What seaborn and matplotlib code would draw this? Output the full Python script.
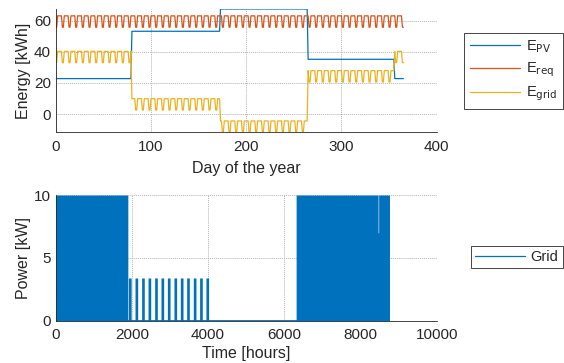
import numpy as np
import pandas as pd
import matplotlib
matplotlib.use("Agg")
import matplotlib.pyplot as plt
import seaborn as sns

# ---- daily energy balance -------------------------------------------------
# first day of each seasonal PV block and its daily PV yield [kWh]
season_first_day = [1, 80, 173, 265, 356]
pv_kwh = [22.8, 53.2, 67.5, 35.2, 22.8]
# daily demand by weekday [kWh], Sunday first (1 January is a Sunday)
req_week_kwh = [55.8, 63.1, 63.1, 63.1, 63.1, 63.1, 55.8]
n_days = 365

# ---- hourly grid power ----------------------------------------------------
band_start_h = [0, 6310]          # periods of continuous grid use
band_end_h = [1893, 8760]
band_kw = 10.0
spike_center_h = [1944, 2116, 2290, 2458, 2632, 2798, 2966,
                  3138, 3306, 3472, 3646, 3812, 3978]
spike_kw = 3.4
spike_width_h = 70
dip_start_h = 8462
dip_end_h = 8476
dip_kw = 7.0
n_hours = 8760

C_PV, C_REQ, C_GRID = "#0072BD", "#D95319", "#EDB120"
INK = "#262626"

# daily series
days = np.arange(1, n_days + 1)
season_idx = np.searchsorted(season_first_day, days, side="right") - 1
e_pv = np.asarray(pv_kwh)[season_idx]
e_req = np.asarray(req_week_kwh)[(days - 1) % 7]
e_grid = e_req - e_pv

lab_pv, lab_req, lab_grid = r"E$_{\mathrm{PV}}$", r"E$_{\mathrm{req}}$", r"E$_{\mathrm{grid}}$"
energy = pd.concat([
    pd.DataFrame({"day": days, "kwh": e_pv, "series": lab_pv}),
    pd.DataFrame({"day": days, "kwh": e_req, "series": lab_req}),
    pd.DataFrame({"day": days, "kwh": e_grid, "series": lab_grid}),
], ignore_index=True)

# hourly envelope of grid power
hours = np.arange(n_hours + 1)
grid_peak = np.zeros(n_hours + 1)
for s, e in zip(band_start_h, band_end_h):
    grid_peak[(hours >= s) & (hours < e)] = band_kw
for c in spike_center_h:
    grid_peak[(hours >= c - spike_width_h / 2) & (hours < c + spike_width_h / 2)] = spike_kw
grid_peak[(hours >= dip_start_h) & (hours < dip_end_h)] = dip_kw
grid_floor = np.zeros(n_hours + 1)
power = pd.DataFrame({"hour": hours, "kw": grid_floor, "series": "Grid"})

# ---- styling --------------------------------------------------------------
sns.set_style("white")
plt.rcParams["font.family"] = ["Liberation Sans", "DejaVu Sans"]
plt.rcParams["mathtext.default"] = "regular"
plt.rcParams.update({
    "xtick.direction": "in", "ytick.direction": "in",
    "xtick.major.size": 3.0, "ytick.major.size": 3.0,
    "xtick.major.width": 0.6, "ytick.major.width": 0.6,
    "xtick.color": INK, "ytick.color": INK,
    "xtick.labelsize": 11, "ytick.labelsize": 11,
    "axes.labelsize": 11.5, "axes.labelcolor": INK,
    "axes.edgecolor": INK, "axes.linewidth": 0.6,
})

fig = plt.figure(figsize=(5.64, 3.63), dpi=100)
ax1 = fig.add_axes([0.0988, 0.6355, 0.6755, 0.3397])
ax2 = fig.add_axes([0.0988, 0.1165, 0.6755, 0.3463])

def style_axes(ax):
    ax.set_axisbelow(True)
    ax.grid(True, color="#b3b3b3", linestyle=(0, (1, 1)), linewidth=0.7)
    for side in ("top", "right"):
        ax.spines[side].set_visible(False)
    ax.tick_params(axis="x", pad=5.5)
    ax.tick_params(axis="y", pad=3.5)

# top: daily energy
sns.lineplot(data=energy, x="day", y="kwh", hue="series",
             palette=[C_PV, C_REQ, C_GRID], linewidth=0.9, ax=ax1)
ax1.set_xlim(0, 400)
ax1.set_ylim(energy["kwh"].min(), energy["kwh"].max())
ax1.set_xticks(range(0, 401, 100))
ax1.set_yticks(range(0, 61, 20))
ax1.set_xlabel("Day of the year")
ax1.set_ylabel("Energy [kWh]")
style_axes(ax1)
ax1.xaxis.set_label_coords(0.5, -0.235)
ax1.yaxis.set_label_coords(-0.066, 0.5)
h, l = ax1.get_legend_handles_labels()
ax1.legend(h, l, loc="upper left", bbox_to_anchor=(0.8222, 0.9099),
           bbox_transform=fig.transFigure, fontsize=10.5, frameon=True,
           fancybox=False, framealpha=1, edgecolor=INK, handlelength=3.45,
           handletextpad=0.4, labelspacing=0.4, borderpad=0.4,
           borderaxespad=0).get_frame().set_linewidth(0.6)

# bottom: hourly grid power
ax2.fill_between(hours, 0, grid_peak, step="post", color=C_PV, linewidth=0)
sns.lineplot(data=power, x="hour", y="kw", hue="series", palette=[C_PV],
             linewidth=0.9, ax=ax2)
ax2.set_xlim(0, 10000)
ax2.set_ylim(0, 10)
ax2.set_xticks(range(0, 10001, 2000))
ax2.set_yticks([0, 5, 10])
ax2.set_xlabel("Time [hours]")
ax2.set_ylabel("Power [kW]")
style_axes(ax2)
ax2.xaxis.set_label_coords(0.5, -0.205)
ax2.yaxis.set_label_coords(-0.066, 0.5)
h, l = ax2.get_legend_handles_labels()
ax2.legend(h, l, loc="upper left", bbox_to_anchor=(0.8346, 0.3231),
           bbox_transform=fig.transFigure, fontsize=10.5, frameon=True,
           fancybox=False, framealpha=1, edgecolor=INK, handlelength=3.4,
           handletextpad=0.4, borderpad=0.3,
           borderaxespad=0).get_frame().set_linewidth(0.6)

fig.savefig("out.png", dpi=100)
